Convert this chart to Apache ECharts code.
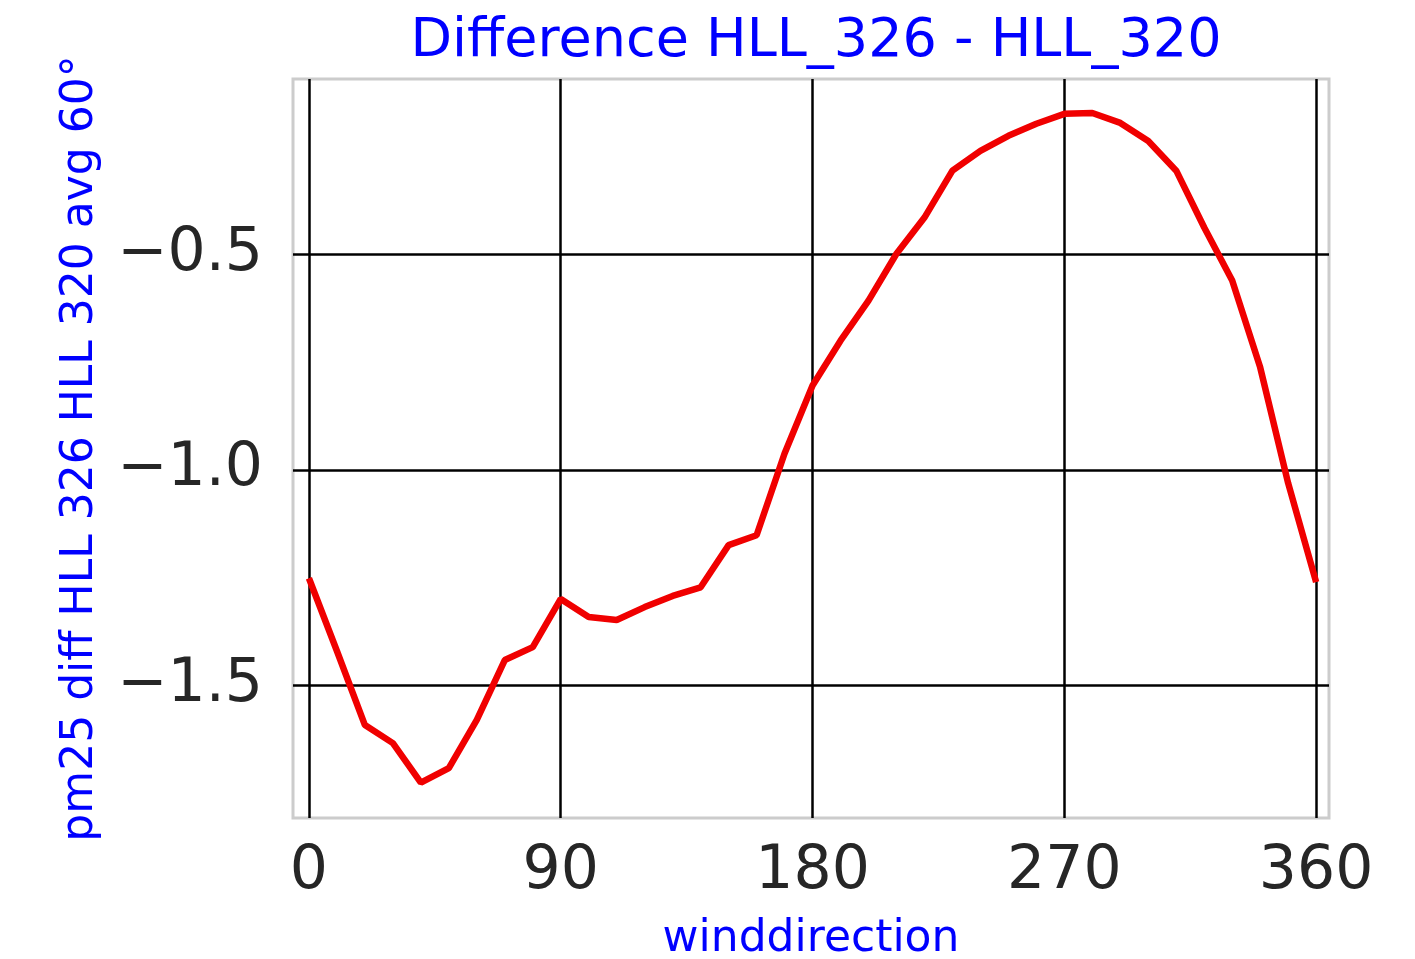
<!DOCTYPE html>
<html>
<head>
<meta charset="utf-8">
<title>Difference HLL_326 - HLL_320</title>
<script src="https://cdn.jsdelivr.net/npm/echarts@6/dist/echarts.min.js"></script>
<style>
  html, body { margin: 0; padding: 0; background: #ffffff; }
  #chart { width: 1415px; height: 959px; }
</style>
</head>
<body>
<div id="chart"></div>
<script>
// wind direction (degrees) and difference values
const directions = [0, 10, 20, 30, 40, 50, 60, 70, 80, 90, 100, 110, 120, 130, 140, 150, 160, 170, 180,
  190, 200, 210, 220, 230, 240, 250, 260, 270, 280, 290, 300, 310, 320, 330, 340, 350, 360]
const diffValues = [-1.252, -1.421, -1.593, -1.635, -1.727, -1.693, -1.581, -1.442, -1.412, -1.300,
  -1.342, -1.349, -1.319, -1.293, -1.273, -1.175, -1.152, -0.962, -0.804, -0.700, -0.607, -0.498,
  -0.414, -0.305, -0.259, -0.224, -0.196, -0.173, -0.171, -0.194, -0.236, -0.305, -0.437, -0.560,
  -0.762, -1.031, -1.261]
const xTicks = [0, 90, 180, 270, 360]
const yTicks = [-1.5, -1.0, -0.5]

const seriesData = directions.map((d, i) => [d, diffValues[i]])

const chart = echarts.init(document.getElementById('chart'))
const font = 'DejaVu Sans'

const option = {
  backgroundColor: '#ffffff',
  animation: false,
  title: {
    text: 'Difference HLL_326 - HLL_320',
    left: 811,
    textAlign: 'center',
    top: 10,
    textStyle: { fontFamily: font, fontSize: 54, fontWeight: 'normal', color: '#0000ff' }
  },
  grid: {
    left: 293,
    top: 79,
    right: 86,
    bottom: 141,
    outerBoundsMode: 'none',
    containLabel: false,
    show: true,
    borderColor: '#cccccc',
    borderWidth: 3,
    backgroundColor: '#ffffff'
  },
  xAxis: {
    type: 'value',
    min: -5.7,
    max: 364.6,
    name: 'winddirection',
    nameLocation: 'middle',
    nameGap: 100,
    nameTextStyle: { fontFamily: font, fontSize: 44, color: '#0000ff' },
    axisLine: { show: false },
    axisTick: { show: false, customValues: xTicks },
    axisLabel: {
      customValues: xTicks,
      fontFamily: font,
      fontSize: 60,
      color: '#262626',
      margin: 24
    },
    splitLine: { show: true, lineStyle: { color: '#000000', width: 2.5 } }
  },
  yAxis: {
    type: 'value',
    min: -1.809,
    max: -0.092,
    name: 'pm25 diff HLL 326 HLL 320 avg 60°',
    nameLocation: 'middle',
    nameGap: 190,
    nameTextStyle: { fontFamily: font, fontSize: 44, color: '#0000ff' },
    axisLine: { show: false },
    axisTick: { show: false, customValues: yTicks },
    axisLabel: {
      customValues: yTicks,
      fontFamily: font,
      fontSize: 60,
      color: '#262626',
      margin: 30,
      formatter: v => (v < 0 ? '\u2212' : '') + Math.abs(v).toFixed(1)
    },
    splitLine: { show: true, lineStyle: { color: '#000000', width: 2.5 } }
  },
  series: [
    {
      type: 'line',
      data: seriesData,
      showSymbol: false,
      lineStyle: { color: '#f00000', width: 6.5 },
      itemStyle: { color: '#f00000' }
    }
  ]
}

chart.setOption(option)
</script>
</body>
</html>
